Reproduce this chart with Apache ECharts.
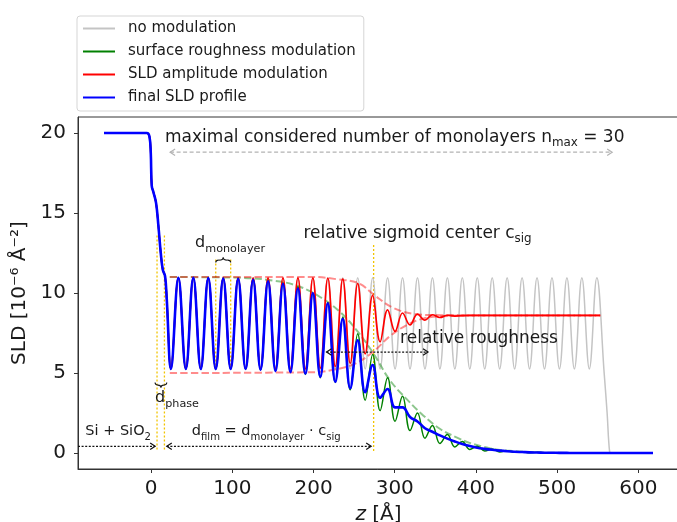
<!DOCTYPE html>
<html>
<head>
<meta charset="utf-8">
<script src="https://cdn.jsdelivr.net/npm/echarts@6.0.0/dist/echarts.min.js"></script>
<style>
html,body{margin:0;padding:0;background:#ffffff;}
#chart{width:677px;height:522px;}
</style>
</head>
<body>
<div id="chart"></div>
<script>
// ---------------- values ----------------
const seriesNames = ['no modulation', 'surface roughness modulation', 'SLD amplitude modulation', 'final SLD profile'];
const xTicks = [0, 100, 200, 300, 400, 500, 600];
const yTicks = [0, 5, 10, 15, 20];

// substrate (Si + SiO2) part, shared by every profile
const zHead   = [-58, -5.3, -2.1, -0.4, 0.8, 2.9, 6.2, 9.0, 11.9, 14.4, 17.2, 19.3];
const sldHead = [20, 20, 19.8, 18.75, 16.7, 16.3, 15.6, 14.2, 12.5, 11.45, 11.05, 9.6];

// positions of the troughs / peaks of the monolayer oscillation (trough first)
const zExtrema = [24.4, 33.6, 42.8, 52.0, 61.2, 70.4, 79.6, 88.8, 98.0, 107.2,
  116.4, 125.6, 134.8, 144.0, 153.2, 162.4, 171.6, 180.8, 190.0, 199.2,
  208.4, 217.6, 226.8, 236.0, 245.2, 254.4, 263.6, 272.8, 282.0, 291.2,
  300.4, 309.6, 318.8, 328.0, 337.2, 346.4, 355.6, 364.8, 374.0, 383.2,
  392.4, 401.6, 410.8, 420.0, 429.2, 438.4, 447.6, 456.8, 466.0, 475.2,
  484.4, 493.6, 502.8, 512.0, 521.2, 530.4, 539.6, 548.8, 558.0];

const noModulation = [5.25, 10.95, 5.25, 10.95, 5.25, 10.95, 5.25, 10.95, 5.25, 10.95,
  5.25, 10.95, 5.25, 10.95, 5.25, 10.95, 5.25, 10.95, 5.25, 10.95,
  5.25, 10.95, 5.25, 10.95, 5.25, 10.95, 5.25, 10.95, 5.25, 10.95,
  5.25, 10.95, 5.25, 10.95, 5.25, 10.95, 5.25, 10.95, 5.25, 10.95,
  5.25, 10.95, 5.25, 10.95, 5.25, 10.95, 5.25, 10.95, 5.25, 10.95,
  5.25, 10.95, 5.25, 10.95, 5.25, 10.95, 5.25, 10.95, 4.9];
const noModulationTailZ = [561.5, 564.5, 566.5, 618];
const noModulationTail  = [2.5, 0.1, 0, 0];

const roughnessMod = [5.25, 10.95, 5.25, 10.95, 5.25, 10.95, 5.25, 10.95, 5.25, 10.93,
  5.24, 10.9, 5.2, 10.8, 5.15, 10.65, 5.05, 10.4, 4.9, 10.0,
  4.7, 9.4, 4.4, 8.5, 3.95, 7.45, 3.3, 6.15, 2.65, 4.7,
  1.98, 3.55, 1.4, 2.5, 0.92, 1.72, 0.6, 1.15, 0.38, 0.72,
  0.22, 0.42, 0.13, 0.25, 0.07, 0.14, 0.04, 0.08, 0.02, 0.04,
  0.01, 0.02, 0, 0.01, 0, 0, 0, 0, 0];
const roughnessTailZ = [618];
const roughnessTail  = [0];

const amplitudeMod = [5.25, 10.95, 5.25, 10.95, 5.25, 10.95, 5.25, 10.95, 5.25, 10.95,
  5.25, 10.95, 5.25, 10.95, 5.25, 10.95, 5.25, 10.95, 5.25, 10.95,
  5.3, 10.93, 5.4, 10.88, 5.6, 10.6, 6.2, 9.85, 6.95, 8.95,
  7.6, 8.75, 8.0, 8.68, 8.3, 8.64, 8.47, 8.61, 8.56];
const amplitudeTailZ = [392.4, 553];
const amplitudeTail  = [8.6, 8.6];

const finalProfile = [5.25, 10.95, 5.25, 10.95, 5.25, 10.93, 5.25, 10.9, 5.25, 10.88,
  5.25, 10.83, 5.2, 10.73, 5.12, 10.58, 5.05, 10.3, 4.95, 10.0,
  4.75, 9.35, 4.45, 8.38, 4.05, 7.05, 3.8, 5.5, 3.45, 4.0,
  2.85, 2.85, 2.25, 1.97, 1.55, 1.33, 1.1, 0.9, 0.72, 0.56,
  0.44, 0.33, 0.26, 0.2, 0.15, 0.11, 0.08, 0.06, 0.04, 0.03,
  0.02, 0.015, 0.01, 0.005, 0, 0, 0, 0, 0];
const finalTailZ = [618];
const finalTail  = [0];

// dashed envelopes
const zEnvRoughness = [23, 110, 150, 180, 208, 233, 255, 274, 294, 315, 335, 356, 376, 393, 417, 438, 470, 500, 553];
const envRoughness  = [11, 10.95, 10.78, 10.45, 9.75, 8.8, 7.55, 6.2, 4.55, 3.35, 2.35, 1.5, 0.98, 0.62, 0.3, 0.15, 0.05, 0.01, 0];
const zEnvUpper = [23, 200, 230, 256, 274, 297, 323, 350, 400, 553];
const envUpper  = [11, 11, 10.85, 10.6, 9.9, 9.1, 8.7, 8.62, 8.6, 8.6];
const zEnvLower = [23, 200, 224, 250, 274, 294, 315, 335, 360, 400, 553];
const envLower  = [5, 5.05, 5.2, 5.55, 6.35, 7.3, 8.0, 8.4, 8.55, 8.6, 8.6];

// annotations (data coordinates)
const annotationTexts = [
  {z: 17.2,  y: 19.74, size: 17,   text: '{n|maximal considered number of monolayers n}{s|max}{n| = 30}'},
  {z: 187.5, y: 13.74, size: 17,   text: '{n|relative sigmoid center c}{s|sig}'},
  {z: 306.6, y: 7.13,  size: 17,   text: '{n|relative roughness}'},
  {z: 54.2,  y: 13.15, size: 16,   text: '{n|d}{s|monolayer}'},
  {z: 4.9,   y: 3.42,  size: 16,   text: '{n|d}{s|phase}'},
  {z: -81,   y: 1.35,  size: 14.5, text: '{n|Si + SiO}{s|2}'},
  {z: 50.1,  y: 1.35,  size: 14.5, text: '{n|d}{s|film}{n| = d}{s|monolayer}{n| · c}{s|sig}'}
];
const yellowMarkers = [
  {z: 7.3,  y0: 13.6, y1: 0.1},
  {z: 16.4, y0: 13.6, y1: 0.1},
  {z: 79.6, y0: 12.1, y1: 5.25},
  {z: 98.0, y0: 12.1, y1: 5.25},
  {z: 274,  y0: 13.0, y1: 0}
];
const arrows = [
  {z0: 23.4, z1: 567.7, y: 18.8, start: true,  end: true, kind: 'grey'},
  {z0: 216,  z1: 341,   y: 6.31, start: true,  end: true, kind: 'black'},
  {z0: -90,  z1: 5,     y: 0.42, start: false, end: true, kind: 'black'},
  {z0: 19.3, z1: 271,   y: 0.42, start: true,  end: true, kind: 'black'}
];
const braces = [
  {z0: 79.6, z1: 98.0, y: 11.9, dir: 'up'},
  {z0: 4.9,  z1: 19.3, y: 4.4,  dir: 'down'}
];

// ---------------- chart ----------------
const FONT = 'DejaVu Sans';
const TXT = '#1a1a1a';
function pairs(zs, vs) { return zs.map((z, i) => [z, vs[i]]); }
function profile(vals, tailZ, tailV) {
  return pairs(zHead, sldHead)
    .concat(pairs(zExtrema.slice(0, vals.length), vals))
    .concat(pairs(tailZ, tailV));
}
function lineSeries(name, data, color, width, extra) {
  return Object.assign({
    type: 'line', name: name, data: data, symbol: 'none', showSymbol: false,
    smooth: 0.4, silent: true, animation: false, z: 2,
    lineStyle: {color: color, width: width}, itemStyle: {color: color}
  }, extra || {});
}
const dashed = [7.4, 3.2];

const chart = echarts.init(document.getElementById('chart'), null, {renderer: 'canvas', width: 677, height: 522});
chart.setOption({
  animation: false,
  backgroundColor: '#ffffff',
  grid: {left: 78, top: 117, right: -2, bottom: 53, show: true, borderColor: '#333', borderWidth: 1,
         containLabel: false, outerBoundsMode: 'none'},
  legend: {
    data: seriesNames, orient: 'vertical', left: 77, top: 16, selectedMode: false,
    padding: [5, 8, 6, 5], itemWidth: 32, itemHeight: 14, itemGap: 8,
    backgroundColor: '#ffffff', borderColor: '#d5d5d5', borderWidth: 1, borderRadius: 3,
    itemStyle: {opacity: 0},
    lineStyle: {width: 2},
    textStyle: {fontFamily: FONT, fontSize: 15, color: TXT, padding: [0, 0, 0, 8]}
  },
  xAxis: {
    type: 'value', min: -90, max: 650,
    splitLine: {show: false},
    axisLine: {show: true, onZero: false, lineStyle: {color: '#333', width: 1}},
    axisTick: {show: true, length: 4, customValues: xTicks, lineStyle: {color: '#333'}},
    axisLabel: {customValues: xTicks, fontFamily: FONT, fontSize: 20, color: TXT, margin: 10},
    name: '{i|z} [Å]', nameLocation: 'middle', nameGap: 36,
    nameTextStyle: {fontFamily: FONT, fontSize: 20, color: TXT,
      rich: {i: {fontStyle: 'italic', fontFamily: FONT, fontSize: 20, color: TXT}}}
  },
  yAxis: {
    type: 'value', min: -1, max: 21,
    splitLine: {show: false},
    axisLine: {show: true, onZero: false, lineStyle: {color: '#333', width: 1}},
    axisTick: {show: true, length: 4, customValues: yTicks, lineStyle: {color: '#333'}},
    axisLabel: {customValues: yTicks, fontFamily: FONT, fontSize: 20, color: TXT, margin: 12},
    name: 'SLD [10⁻⁶ Å⁻²]', nameLocation: 'middle', nameGap: 40, nameRotate: 90,
    nameTextStyle: {fontFamily: FONT, fontSize: 20, color: TXT}
  },
  series: [
    lineSeries(seriesNames[0], profile(noModulation, noModulationTailZ, noModulationTail), '#c4c4c4', 1.5),
    lineSeries('rough envelope', pairs(zEnvRoughness, envRoughness), 'rgba(0,128,0,0.45)', 2, {lineStyle: {color: 'rgba(0,128,0,0.45)', width: 2, type: dashed}}),
    lineSeries('upper envelope', pairs(zEnvUpper, envUpper), 'rgba(255,0,0,0.45)', 2, {lineStyle: {color: 'rgba(255,0,0,0.45)', width: 2, type: dashed}}),
    lineSeries('lower envelope', pairs(zEnvLower, envLower), 'rgba(255,0,0,0.45)', 2, {lineStyle: {color: 'rgba(255,0,0,0.45)', width: 2, type: dashed}}),
    lineSeries(seriesNames[1], profile(roughnessMod, roughnessTailZ, roughnessTail), '#008000', 1.5),
    lineSeries(seriesNames[2], profile(amplitudeMod, amplitudeTailZ, amplitudeTail), '#ff0000', 1.7),
    lineSeries(seriesNames[3], profile(finalProfile, finalTailZ, finalTail), '#0000ff', 2.6)
  ]
});

// ---------------- annotations placed through the axes ----------------
function P(z, y) { return chart.convertToPixel({gridIndex: 0}, [z, y]); }
const els = [];
yellowMarkers.forEach(m => {
  const a = P(m.z, m.y0), b = P(m.z, m.y1);
  els.push({type: 'line', z: 1, silent: true,
    shape: {x1: a[0], y1: a[1], x2: b[0], y2: b[1]},
    style: {stroke: '#f2c400', lineWidth: 1.3, lineDash: [2, 2]}});
});
arrows.forEach(ar => {
  const a = P(ar.z0, ar.y), b = P(ar.z1, ar.y);
  const col = ar.kind === 'grey' ? '#b3b3b3' : '#111111';
  const dash = ar.kind === 'grey' ? [4, 2.5] : [2, 1.6];
  els.push({type: 'line', z: 100, silent: true,
    shape: {x1: a[0], y1: a[1], x2: b[0], y2: b[1]},
    style: {stroke: col, lineWidth: 1.2, lineDash: dash}});
  const head = (p, dir) => ({type: 'polyline', z: 100, silent: true,
    shape: {points: [[p[0] - 5 * dir, p[1] - 3.3], [p[0], p[1]], [p[0] - 5 * dir, p[1] + 3.3]]},
    style: {stroke: col, lineWidth: 1.2, fill: null}});
  if (ar.end) els.push(head(b, 1));
  if (ar.start) els.push(head(a, -1));
});
braces.forEach(br => {
  const a = P(br.z0, br.y), b = P(br.z1, br.y);
  const x0 = a[0], x1 = b[0], yb = a[1];
  const yt = br.dir === 'up' ? yb - 5 : yb + 5;
  const ym = (yb + yt) / 2, xm = (x0 + x1) / 2, r = Math.min(3, (x1 - x0) / 4);
  const st = {stroke: TXT, lineWidth: 1.1, fill: null};
  els.push({type: 'bezierCurve', z: 100, silent: true, shape: {x1: x0, y1: yb, x2: x0 + r, y2: ym, cpx1: x0, cpy1: ym}, style: st});
  els.push({type: 'line', z: 100, silent: true, shape: {x1: x0 + r, y1: ym, x2: xm - r, y2: ym}, style: st});
  els.push({type: 'bezierCurve', z: 100, silent: true, shape: {x1: xm - r, y1: ym, x2: xm, y2: yt, cpx1: xm, cpy1: ym}, style: st});
  els.push({type: 'bezierCurve', z: 100, silent: true, shape: {x1: xm, y1: yt, x2: xm + r, y2: ym, cpx1: xm, cpy1: ym}, style: st});
  els.push({type: 'line', z: 100, silent: true, shape: {x1: xm + r, y1: ym, x2: x1 - r, y2: ym}, style: st});
  els.push({type: 'bezierCurve', z: 100, silent: true, shape: {x1: x1 - r, y1: ym, x2: x1, y2: yb, cpx1: x1, cpy1: ym}, style: st});
});
annotationTexts.forEach(t => {
  const p = P(t.z, t.y);
  const F = t.size, S = Math.round(F * 0.7 * 10) / 10;
  const L = Math.round(F + 7), Ls = L - 2 * (1.2 + 0.102 * F);
  els.push({type: 'text', x: p[0], y: p[1], z: 100, silent: true,
    style: {text: t.text, fill: TXT, font: F + 'px "DejaVu Sans"',
      align: 'left', verticalAlign: 'middle', textAlign: 'left', textVerticalAlign: 'middle',
      rich: {
        n: {fontSize: F, fontFamily: FONT, lineHeight: L, fill: TXT},
        s: {fontSize: S, fontFamily: FONT, lineHeight: Ls, verticalAlign: 'bottom', fill: TXT}
      }}});
});
chart.setOption({graphic: {elements: els}});
</script>
</body>
</html>
